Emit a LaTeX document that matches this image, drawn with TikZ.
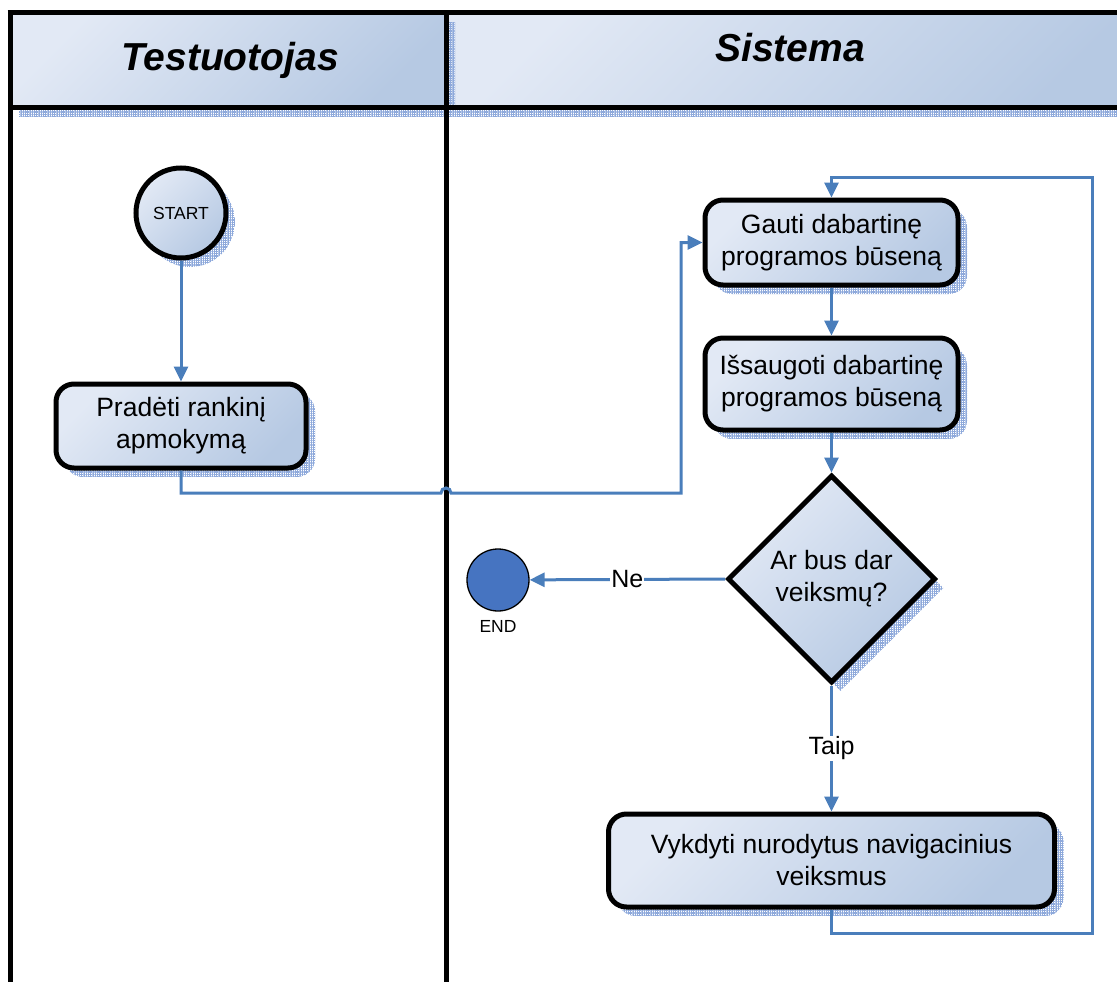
\documentclass[tikz,border=0pt]{standalone}
\usepackage{fontspec}
\setmainfont{Liberation Sans}
\usetikzlibrary{arrows.meta,shapes.geometric,shadows,patterns.meta}

\definecolor{flowblue}{HTML}{4A7EBB}
\definecolor{fillA}{HTML}{E2E9F5}
\definecolor{fillB}{HTML}{B6C9E3}
\definecolor{meshblue}{HTML}{8EA9DB}
\definecolor{endfill}{HTML}{4674C1}

\tikzset{
  meshshadow/.style={general shadow={shadow xshift=9pt, shadow yshift=-9pt,
      pattern={Hatch[distance=1.8pt,line width=0.45pt]}, pattern color=meshblue}},
  softfill/.style={top color=fillA, bottom color=fillB, shading angle=45},
  lanerule/.style={line width=5pt, black},
  laneshade/.style={softfill, meshshadow},
  lanetitle/.style={font=\fontsize{39}{44}\selectfont\bfseries\itshape},
  boxtext/.style={font=\fontsize{26.5}{32}\selectfont, align=center},
  stepbox/.style={rectangle, rounded corners=18pt, draw=black, line width=5pt,
      softfill, meshshadow, boxtext, inner sep=0pt},
  decision/.style={diamond, aspect=1, draw=black, line width=5pt,
      softfill, meshshadow, boxtext, inner sep=0pt},
  startcirc/.style={circle, draw=black, line width=5pt, softfill, meshshadow,
      font=\fontsize{17.5}{20}\selectfont, inner sep=0pt},
  endcirc/.style={circle, draw=black, line width=1.3pt, fill=endfill, inner sep=0pt},
  flow/.style={draw=flowblue, line width=3pt,
      -{Triangle[length=15pt,width=14pt]}},
  flowlabel/.style={fill=white, inner sep=1pt, font=\fontsize{25}{30}\selectfont},
}

\begin{document}
\begin{tikzpicture}[x=1pt,y=-1pt]
\useasboundingbox (0,0) rectangle (1117,982);
\clip (0,0) rectangle (1117,982);

% swimlane headers
\path[laneshade] (446,13) rectangle (1150,107);
\path[laneshade] (10,13) rectangle (446,107);
\draw[lanerule] (7.5,13) -- (1150,13);
\draw[lanerule] (10,107) -- (1150,107);
\draw[lanerule] (10,10.5) -- (10,995);
\draw[lanerule] (446,10.5) -- (446,995);
\node[lanetitle] (laneA) at (230,60) {Testuotojas};
\node[lanetitle] (laneB) at (790,48) {Sistema};

% tester lane
\node[startcirc, minimum size=90] (start) at (181,213) {START};
\node[stepbox, minimum width=250, minimum height=84] (train) at (181,426)
  {Pradėti rankinį\\apmokymą};

% system lane
\node[stepbox, minimum width=253, minimum height=85] (get) at (831.5,242.5)
  {Gauti dabartinę\\programos būseną};
\node[stepbox, minimum width=253, minimum height=92] (save) at (831.5,384)
  {Išsaugoti dabartinę\\programos būseną};
\node[decision, minimum width=208, minimum height=208] (ask) at (831.5,579)
  {Ar bus dar\\veiksmų?};
\node[endcirc, minimum size=62] (end) at (498,580) {};
\node[font=\fontsize{17.5}{20}\selectfont] (endtext) at (498,626) {END};
\node[stepbox, minimum width=446, minimum height=93] (run) at (831.5,860.5)
  {Vykdyti nurodytus navigacinius\\veiksmus};

% connectors
\draw[flow] (start) -- (train);
\draw[flow] (train.south) |- (441,493) arc[start angle=180,end angle=360,radius=5]
  -- (681,493) |- (get.west);
\draw[flow] (get) -- (save);
\draw[flow] (save) -- (ask);
\draw[flow] (ask.west) -- node[flowlabel] {Ne} (end);
\draw[flow] (ask.south) -- node[flowlabel] {Taip} (run);
\draw[flow] (run.south) |- (1092,933) -- (1092,177) -| (get.north);
\end{tikzpicture}
\end{document}
